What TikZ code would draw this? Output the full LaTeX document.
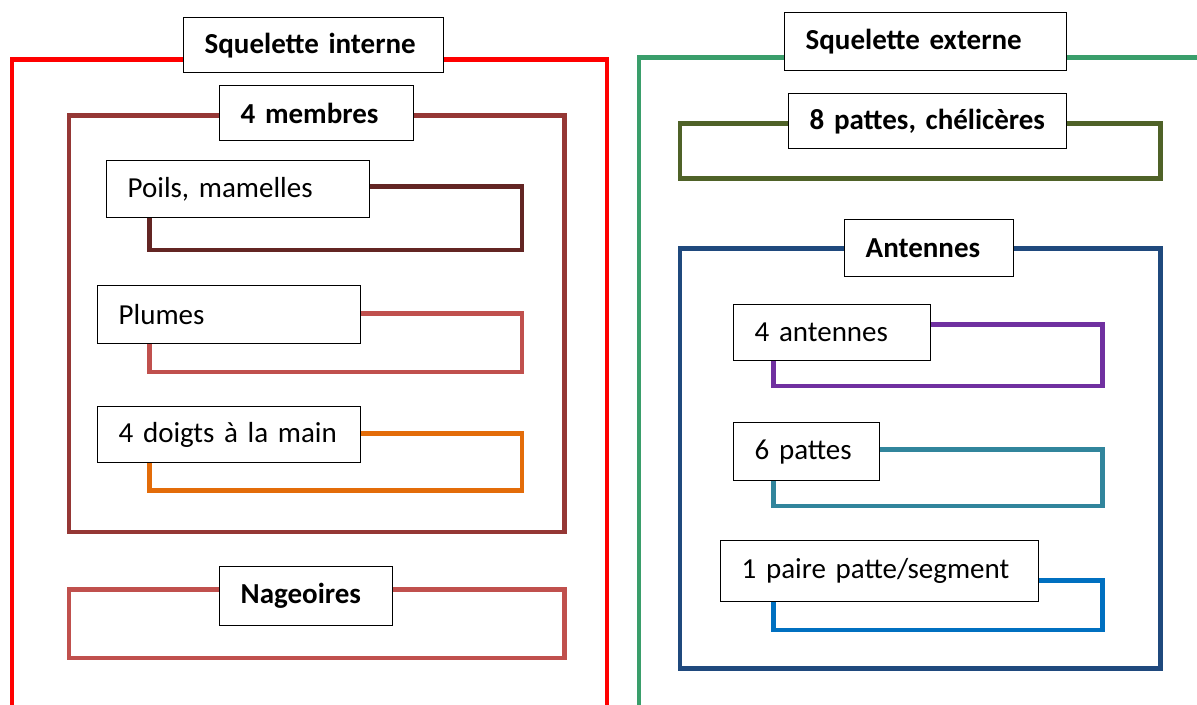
\documentclass[tikz,border=0pt]{standalone}
\usepackage{fontspec}
\setmainfont{Carlito}
\usetikzlibrary{positioning}
\definecolor{rougeVif}{HTML}{FF0000}
\definecolor{brunM}{HTML}{953735}
\definecolor{bordeaux}{HTML}{632523}
\definecolor{vieuxRose}{HTML}{C0504D}
\definecolor{orangeD}{HTML}{E36C09}
\definecolor{vertS}{HTML}{3A9E6B}
\definecolor{kaki}{HTML}{4F6228}
\definecolor{marine}{HTML}{1F497D}
\definecolor{violetA}{HTML}{7030A0}
\definecolor{sarcelle}{HTML}{31859C}
\definecolor{bleuP}{HTML}{0070C0}
\newcommand{\texteserre}{\fontsize{16.5}{19}\selectfont\spaceskip 0.2em\relax}

\begin{document}
\begin{tikzpicture}[x=0.02cm, y=-0.02cm,
  cadre/.style={line width=2.8pt},
  lbl/.style={draw, fill=white, line width=0.8pt, inner xsep=0.42cm, inner ysep=0pt,
    align=left, anchor=north west, font=\texteserre},
  titre/.style={lbl, font=\texteserre\bfseries}]
\useasboundingbox (0,0) rectangle (1197,705);

% squelette interne
\draw[cadre, rougeVif] (12,705) -- (12,59.5) -- (607,59.5) -- (607,705);
\draw[cadre, brunM] (69,115.5) rectangle (564.5,532);
\draw[cadre, bordeaux] (149.5,186.5) rectangle (522,250);
\draw[cadre, vieuxRose] (149.5,313.5) rectangle (522,372);
\draw[cadre, orangeD] (149.5,433.5) rectangle (522,490.5);
\draw[cadre, vieuxRose] (69,589.5) rectangle (564.5,658);

\node[titre, text width=4.36cm, minimum height=1.1cm] (sqint) at (183,17) {Squelette interne};
\node[titre, text width=3.04cm, minimum height=1.1cm] (membres) at (219,85) {4 membres};
\node[lbl, text width=4.42cm, minimum height=1.14cm] (poils) at (106,160) {Poils, mamelles};
\node[lbl, text width=4.42cm, minimum height=1.16cm] (plumes) at (97,285) {Plumes};
\node[lbl, text width=4.42cm, minimum height=1.12cm] (doigts) at (97,406) {4 doigts à la main};
\node[titre, text width=2.62cm, minimum height=1.18cm] (nageoires) at (219,566) {Nageoires};

% squelette externe
\draw[cadre, vertS] (639,705) -- (639,57.5) -- (1197,57.5);
\draw[cadre, kaki] (680,123.5) rectangle (1160.5,178.5);
\draw[cadre, marine] (680,248.5) rectangle (1160.5,668.5);
\draw[cadre, violetA] (773.5,324.5) rectangle (1102.5,386);
\draw[cadre, sarcelle] (773.5,449.5) rectangle (1102.5,506);
\draw[cadre, bleuP] (773.5,580.5) rectangle (1102.5,630);

\node[titre, text width=4.80cm, minimum height=1.16cm] (sqext) at (784,12) {Squelette externe};
\node[titre, text width=4.72cm, minimum height=1.1cm] (pattes8) at (788,93) {8 pattes, chélicères};
\node[titre, text width=2.54cm, minimum height=1.14cm] (antennes) at (844,219) {Antennes};
\node[lbl, text width=3.10cm, minimum height=1.12cm] (ant4) at (733,304) {4 antennes};
\node[lbl, text width=2.08cm, minimum height=1.16cm] (pattes6) at (733,422) {6 pattes};
\node[lbl, text width=5.52cm, minimum height=1.22cm] (paire) at (720,540) {1 paire patte/segment};
\end{tikzpicture}
\end{document}
